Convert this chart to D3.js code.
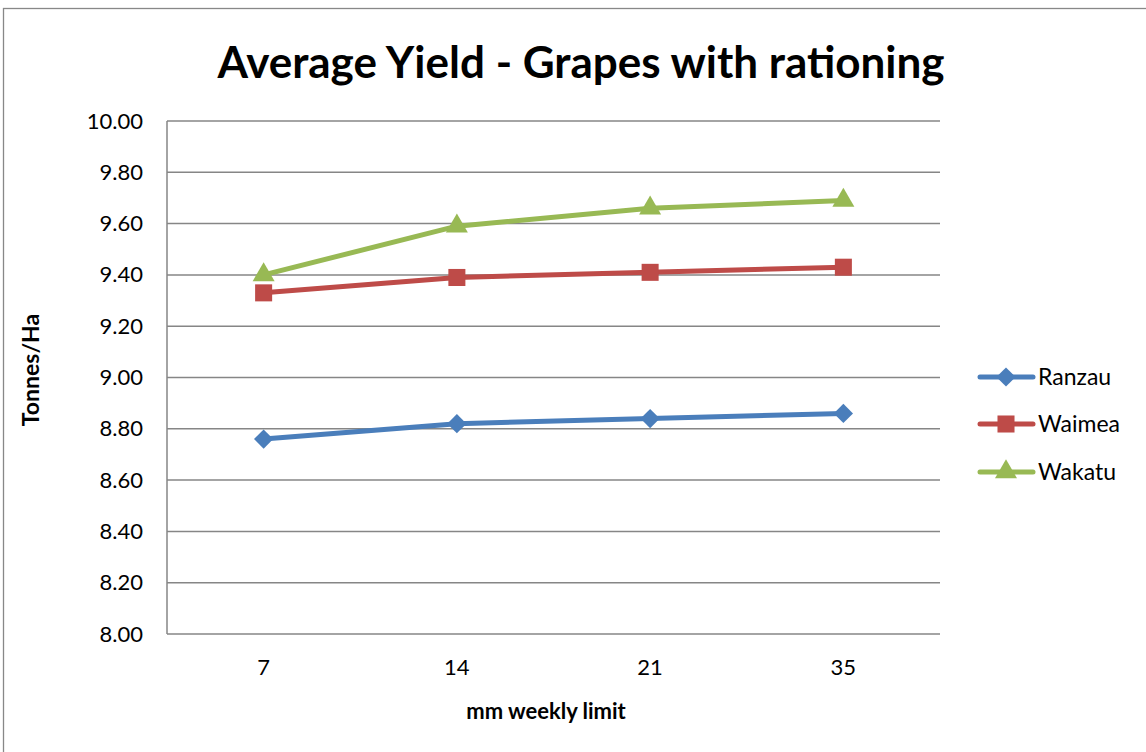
<!DOCTYPE html>
<html>
<head>
<meta charset="utf-8">
<script src="https://cdn.jsdelivr.net/npm/d3@7"></script>
<style>
  html, body { margin: 0; padding: 0; background: #fff; }
  svg { display: block; }
  text { font-family: Lato, "Open Sans", sans-serif; fill: #000; }
</style>
</head>
<body>
<svg id="chart" width="1146" height="752"></svg>
<script>
// Yield data (tonnes per hectare) by weekly irrigation limit
const categories = ["7", "14", "21", "35"];
const seriesNames = ["Ranzau", "Waimea", "Wakatu"];
const ranzau = [8.76, 8.82, 8.84, 8.86];
const waimea = [9.33, 9.39, 9.41, 9.43];
const wakatu = [9.40, 9.59, 9.66, 9.69];
const yTicks = [8.00, 8.20, 8.40, 8.60, 8.80, 9.00, 9.20, 9.40, 9.60, 9.80, 10.00];

const colors = ["#4a7ebb", "#be4b48", "#98b954"];
const seriesValues = [ranzau, waimea, wakatu];

// Marker shapes: diamond (square turned 45°), square, triangle
const markerDefs = [
  { type: d3.symbolSquare, size: 185, rotate: 45 },
  { type: d3.symbolSquare, size: 290, rotate: 0 },
  { type: d3.symbolTriangle, size: 210, rotate: 0 }
];

const svg = d3.select("#chart");

// Outer chart frame
svg.append("rect")
  .attr("x", 3.5).attr("y", 8.5)
  .attr("width", 1160).attr("height", 760)
  .attr("fill", "none").attr("stroke", "#888").attr("stroke-width", 1.3);

const plot = { left: 167, right: 940, top: 121, bottom: 634 };

const x = d3.scaleBand().domain(categories).range([plot.left, plot.right]);
const y = d3.scaleLinear().domain([8, 10]).range([plot.bottom, plot.top]);

// Horizontal gridlines
svg.append("g")
  .selectAll("line")
  .data(yTicks)
  .join("line")
  .attr("x1", plot.left).attr("x2", plot.right)
  .attr("y1", d => y(d)).attr("y2", d => y(d))
  .attr("stroke", "#868686").attr("stroke-width", 1.5);

// Y axis line
svg.append("line")
  .attr("x1", plot.left).attr("x2", plot.left)
  .attr("y1", plot.top).attr("y2", plot.bottom)
  .attr("stroke", "#868686").attr("stroke-width", 1.5);

// Y axis tick labels
const yAxis = d3.axisLeft(y).tickValues(yTicks).tickFormat(d3.format(".2f")).tickSize(0).tickPadding(24);
const gy = svg.append("g").attr("transform", `translate(${plot.left},0)`).call(yAxis);
gy.select(".domain").remove();
gy.selectAll("text").style("font-size", "22px").style("font-family", "Lato, sans-serif").attr("fill", "#000");

// X axis tick labels
const xAxis = d3.axisBottom(x).tickSize(0).tickPadding(25);
const gx = svg.append("g").attr("transform", `translate(0,${plot.bottom})`).call(xAxis);
gx.select(".domain").remove();
gx.selectAll("text").style("font-size", "22px").style("font-family", "Lato, sans-serif").attr("fill", "#000");

// Series lines and markers
const line = d3.line()
  .x((d, i) => x(categories[i]) + x.bandwidth() / 2)
  .y(d => y(d));

seriesValues.forEach((vals, s) => {
  const m = markerDefs[s];
  const g = svg.append("g");
  g.append("path")
    .datum(vals)
    .attr("d", line)
    .attr("fill", "none")
    .attr("stroke", colors[s])
    .attr("stroke-width", 5)
    .attr("stroke-linejoin", "round");
  g.selectAll("path.marker")
    .data(vals)
    .join("path")
    .attr("class", "marker")
    .attr("transform", (d, i) => `translate(${x(categories[i]) + x.bandwidth() / 2},${y(d)}) rotate(${m.rotate})`)
    .attr("d", d3.symbol().type(m.type).size(m.size))
    .attr("fill", colors[s]);
});

// Title
svg.append("text")
  .attr("x", 581).attr("y", 78)
  .attr("text-anchor", "middle")
  .style("font-size", "44px").style("font-weight", "bold")
  .text("Average Yield - Grapes with rationing");

// Axis titles
svg.append("text")
  .attr("x", 546).attr("y", 719)
  .attr("text-anchor", "middle")
  .style("font-size", "22px").style("font-weight", "bold")
  .text("mm weekly limit");

svg.append("text")
  .attr("transform", "translate(39,370) rotate(-90)")
  .attr("text-anchor", "middle")
  .style("font-size", "23px").style("font-weight", "bold")
  .text("Tonnes/Ha");

// Legend
const legendRows = [377, 424, 472];
const legend = svg.append("g");
seriesNames.forEach((name, s) => {
  const m = markerDefs[s];
  const row = legend.append("g").attr("transform", `translate(0,${legendRows[s]})`);
  row.append("line")
    .attr("x1", 980).attr("x2", 1033)
    .attr("stroke", colors[s]).attr("stroke-width", 5).attr("stroke-linecap", "round");
  row.append("path")
    .attr("transform", `translate(1006,0) rotate(${m.rotate})`)
    .attr("d", d3.symbol().type(m.type).size(m.size))
    .attr("fill", colors[s]);
  row.append("text")
    .attr("x", 1038).attr("y", 8)
    .style("font-size", "23px")
    .text(name);
});
</script>
</body>
</html>
